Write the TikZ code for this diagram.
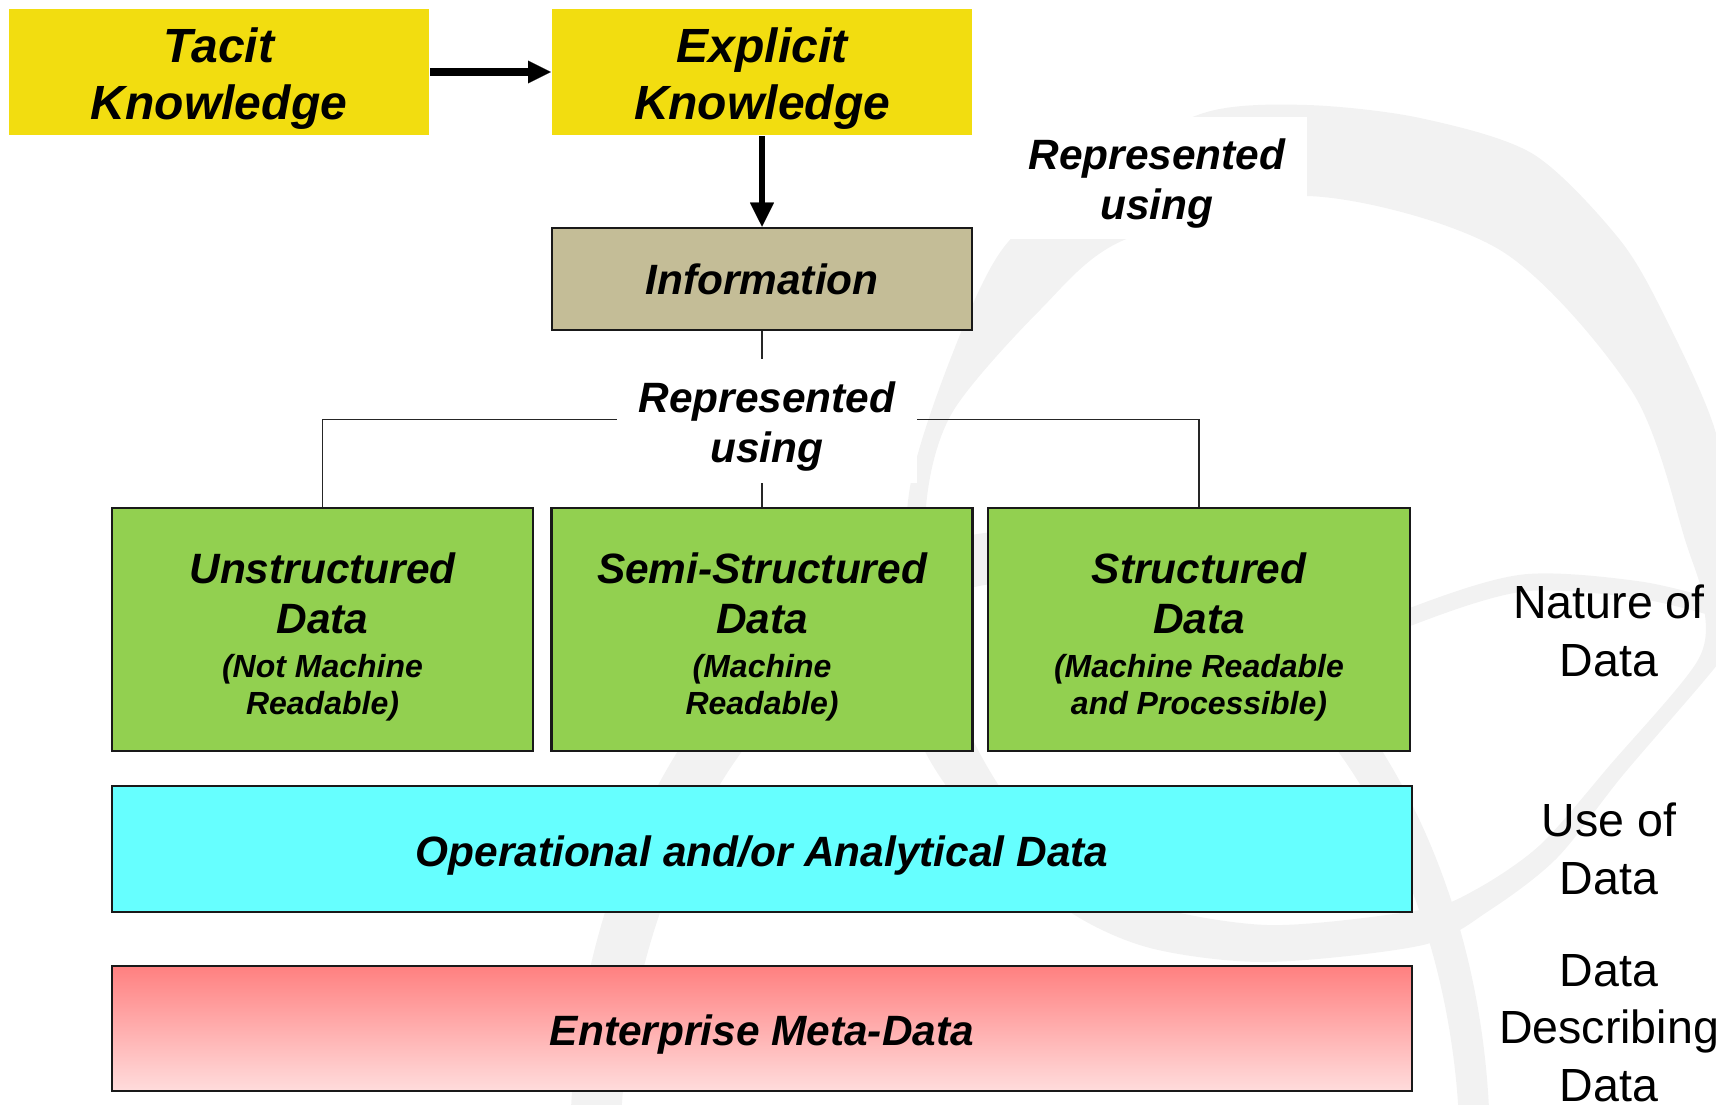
\documentclass[tikz,border=0pt]{standalone}
\usepackage{fontspec}
\setmainfont{Liberation Sans}
\usetikzlibrary{arrows.meta}
\definecolor{kyellow}{HTML}{F2DD10}
\definecolor{kinfo}{HTML}{C4BD97}
\definecolor{kgreen}{HTML}{92D050}
\definecolor{kcyan}{HTML}{66FFFF}
\definecolor{kpinktop}{HTML}{FF8080}
\definecolor{kpinkbot}{HTML}{FFDCDC}
\definecolor{kwm}{HTML}{F2F2F2}
\newcommand\kstrut[1]{\rule{0pt}{#1}}
\newcommand\fTacit{\fontsize{36pt}{42.75pt}\selectfont\bfseries\itshape}
\newcommand\fTitle{\fontsize{31.8pt}{37.5pt}\selectfont\bfseries\itshape}
\newcommand\fLabel{\fontsize{31.8pt}{38pt}\selectfont\bfseries\itshape}
\newcommand\fSub{\fontsize{24pt}{27.9pt}\selectfont\bfseries\itshape}
\newcommand\fSide{\fontsize{34.9pt}{43.1pt}\selectfont}
\begin{document}
\begin{tikzpicture}[x=0.75pt,y=-0.75pt,
  box/.style={rectangle, inner sep=0pt, align=flush center, draw=black!90, line width=1.8pt},
  kbox/.style={box, draw=none, fill=kyellow, font=\fTacit, text width=300pt, minimum width=315pt, minimum height=94.5pt},
  infobox/.style={box, fill=kinfo, font=\fTitle, text width=300pt, minimum width=315pt, minimum height=76.5pt, line width=2pt},
  greenbox/.style={box, fill=kgreen, font=\fTitle, text width=300pt, minimum width=315.5pt, minimum height=182.25pt},
  widebox/.style={box, font=\fTitle, text width=900pt, minimum width=975pt, minimum height=94.5pt},
  replabel/.style={fill=white, inner sep=0pt, align=flush center, font=\fLabel, text width=217.5pt, minimum width=225pt, minimum height=92.25pt},
  side/.style={inner sep=0pt, align=flush center, font=\fSide, text width=195pt},
  conn/.style={draw=black!85, line width=1.2pt},
  hugearrow/.style={draw=black, line width=6.5pt, -{Triangle[length=17pt,width=17pt,line width=0.1pt]}},
  downarrow/.style={draw=black, line width=5pt, -{Triangle[length=18pt,width=18pt,line width=0.1pt]}}
]
\useasboundingbox (0,0) rectangle (1716,1105);
% watermark
\begin{scope}
\clip (0,0) rectangle (1716,1105);
\fill[kwm, even odd rule]
  plot[smooth cycle] coordinates {(920,740) (905,620) (910,487) (950,360) (1004,247) (1100,165) (1207,112) (1307,105) (1420,118) (1533,154) (1620,240) (1667,321) (1715,430) (1735,546) (1735,630) (1717,665) (1623,775) (1557,858) (1490,910) (1423,945) (1267,962) (1150,948) (1067,910) (985,835)}
  plot[smooth cycle] coordinates {(973,740) (935,620) (926,507) (952,413) (1040,310) (1124,240) (1307,196) (1500,250) (1633,393) (1687,546) (1703,600) (1698,660) (1610,765) (1540,845) (1475,890) (1420,910) (1267,925) (1133,900) (1040,840)};
\fill[kwm, even odd rule] (1030,1150) ellipse [x radius=460, y radius=620] (1040,1160) ellipse [x radius=420, y radius=580];
\draw[kwm, line width=12.75pt] plot[smooth] coordinates {(1300,668) (1410,617) (1523,583) (1640,590) (1730,612)};
\end{scope}
% boxes
\node[kbox] (tacit) at (219,72) {\kstrut{35.25pt}Tacit\\Knowledge};
\node[kbox] (explicit) at (762,72) {\kstrut{35.25pt}Explicit\\Knowledge};
\node[infobox] (info) at (762,279) {Information};
\node[greenbox] (unst) at (322.5,629.5) {\kstrut{34pt}Unstructured\\Data\par\vspace{5pt}\fSub (Not Machine\\Readable)\par};
\node[greenbox] (semi) at (762,629.5) {\kstrut{34pt}Semi-Structured\\Data\par\vspace{5pt}\fSub (Machine\\Readable)\par};
\node[greenbox, minimum width=316.5pt] (struct) at (1199,629.5) {\kstrut{34pt}Structured\\Data\par\vspace{5pt}\fSub (Machine Readable\\and Processible)\par};
\node[widebox, fill=kcyan] (opdata) at (762,849) {\kstrut{32.25pt}Operational and/or Analytical Data};
\node[widebox, top color=kpinktop, bottom color=kpinkbot, minimum height=93.75pt] (meta) at (762,1028.5) {\kstrut{32.25pt}Enterprise Meta-Data};
% arrows
\draw[hugearrow] (tacit.east) -- (explicit.west);
\draw[downarrow] (explicit.south) -- (info.north);
% tree connectors
\coordinate (hl) at (762,419.5);
\draw[conn] (info.south) -- (semi.north);
\draw[conn] (unst.north) -- (unst.north |- hl) -- (struct.north |- hl) -- (struct.north);
% labels
\node[replabel] (rep2) at (767,421) {\kstrut{31.5pt}Represented\\using};
\node[replabel, minimum width=224.25pt, minimum height=91.5pt] (rep1) at (1157,178) {\kstrut{31.5pt}Represented\\using};
\node[side] (nature) at (1609,631) {Nature of\\Data};
\node[side] (use) at (1609,849) {Use of\\Data};
\node[side] (describing) at (1609,1028) {Data\\Describing\\Data};
\end{tikzpicture}
\end{document}
